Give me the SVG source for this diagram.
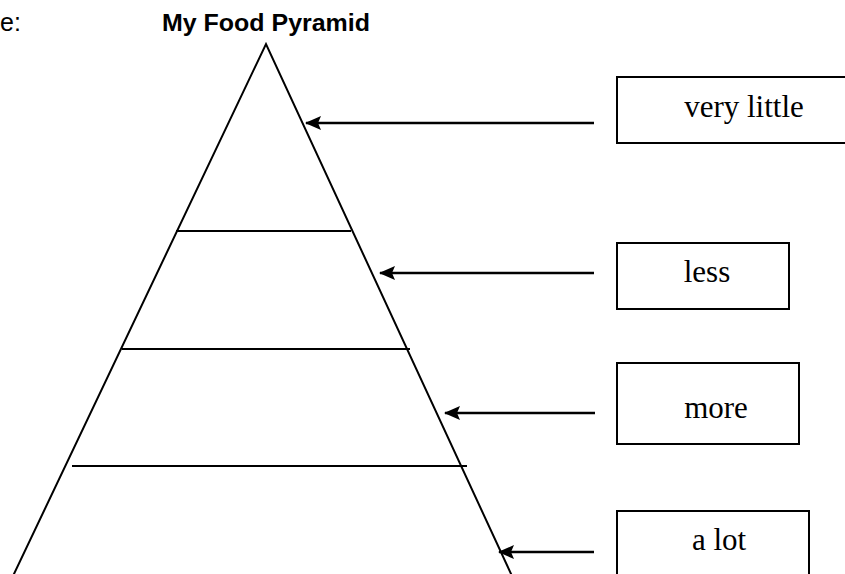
<svg xmlns="http://www.w3.org/2000/svg" width="845" height="574" viewBox="0 0 845 574">
<style>
.ln{stroke:#000;stroke-width:2;fill:none}
.box{stroke:#000;stroke-width:2;fill:#fff}
.arr{stroke:#000;stroke-width:2.5;fill:none;marker-end:url(#ah)}
.lbl{font-family:"Liberation Serif","Times New Roman",serif;font-size:31px;fill:#000;text-anchor:middle}
.ttl{font-family:"Liberation Sans",Arial,sans-serif;font-size:23px;font-weight:bold;fill:#000}
.hd{font-family:"Liberation Sans",Arial,sans-serif;font-size:25px;fill:#000}
</style>
<defs>
<marker id="ah" markerUnits="userSpaceOnUse" markerWidth="16" markerHeight="14" refX="15" refY="7" orient="auto">
<path d="M0,0 L16,7 L0,14 L3,7 Z" fill="#000"/>
</marker>
</defs>
<rect width="845" height="574" fill="#fff"/>
<text class="hd" x="0" y="31">e:</text>
<text class="ttl" x="162" y="31" textLength="208" lengthAdjust="spacingAndGlyphs">My Food Pyramid</text>
<g id="pyramid">
<polyline class="ln" points="13,576 266,44 512,576"/>
<line class="ln" x1="176" y1="231" x2="351" y2="231"/>
<line class="ln" x1="122" y1="349" x2="410" y2="349"/>
<line class="ln" x1="72" y1="466" x2="467" y2="466"/>
</g>
<g id="connectors">
<line class="arr" x1="594" y1="123" x2="306" y2="123"/>
<line class="arr" x1="594" y1="273" x2="380" y2="273"/>
<line class="arr" x1="595" y1="413" x2="445" y2="413"/>
<line class="arr" x1="594" y1="552" x2="499" y2="552"/>
</g>
<g id="box-very-little">
<rect class="box" x="617" y="77" width="240" height="66"/>
<text class="lbl" x="744" y="117">very little</text>
</g>
<g id="box-less">
<rect class="box" x="617" y="243" width="172" height="66"/>
<text class="lbl" x="707" y="282">less</text>
</g>
<g id="box-more">
<rect class="box" x="617" y="363" width="182" height="81"/>
<text class="lbl" x="716" y="418">more</text>
</g>
<g id="box-a-lot">
<rect class="box" x="617" y="511" width="192" height="80"/>
<text class="lbl" x="719" y="550">a lot</text>
</g>
</svg>
